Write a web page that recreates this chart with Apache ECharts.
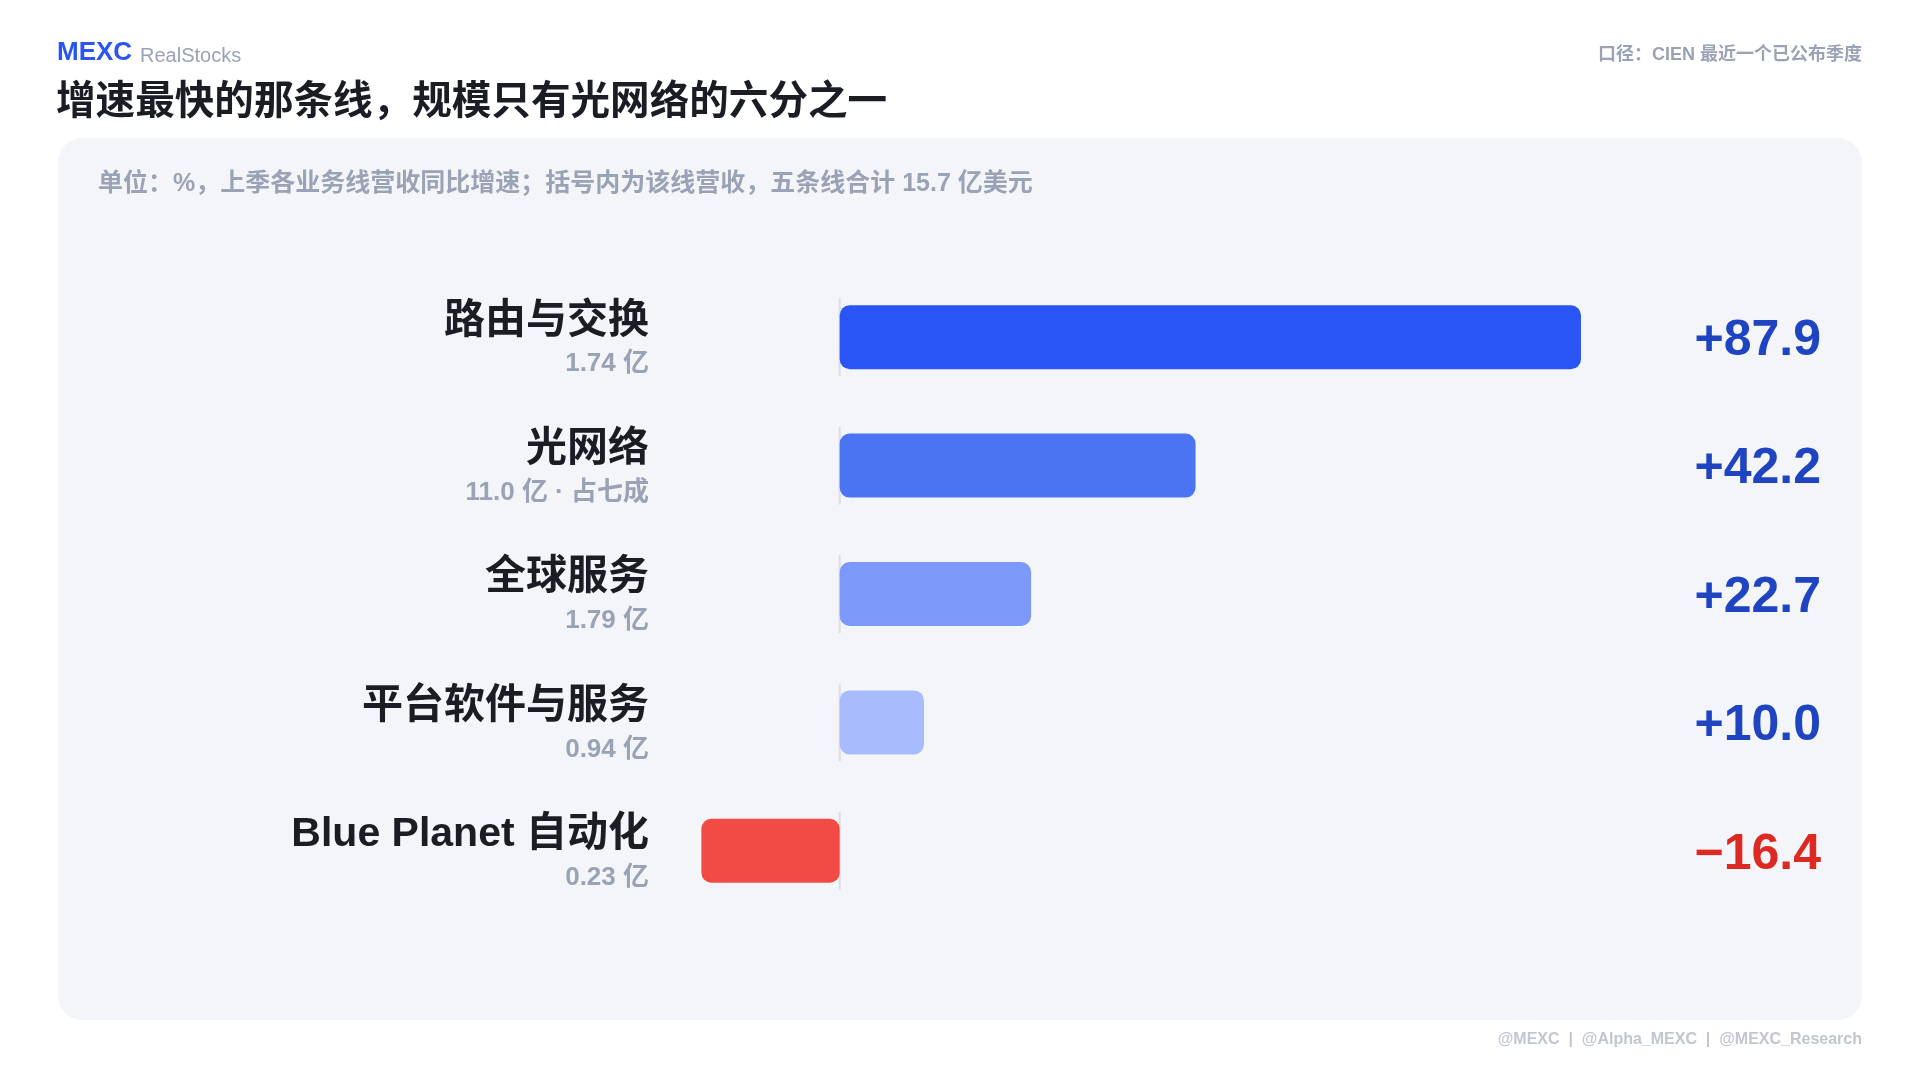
<!DOCTYPE html>
<html><head><meta charset="utf-8">
<script src="https://cdn.jsdelivr.net/npm/echarts@6/dist/echarts.min.js"></script>
<style>html,body{margin:0;padding:0;background:#fff}#c{width:1920px;height:1080px}</style>
</head><body><div id="c"></div>
<script>
const categories = ['路由与交换', '光网络', '全球服务', '平台软件与服务', 'Blue Planet 自动化'];
const revenueLabels = ['1.74 亿', '11.0 亿 · 占七成', '1.79 亿', '0.94 亿', '0.23 亿'];
const growth = [87.9, 42.2, 22.7, 10.0, -16.4];
const barColors = ['#2a55f5', '#4a74f2', '#7c98f8', '#a8bbfd', '#f24b46'];

const FF = '"Liberation Sans", Arial, "Noto Sans CJK SC", sans-serif';
const chart = echarts.init(document.getElementById('c'), null, {renderer: 'canvas'});

function fmtVal(v) {
  return v >= 0 ? '{pos|+' + v.toFixed(1) + '}' : '{neg|\u2212' + Math.abs(v).toFixed(1) + '}';
}

chart.setOption({
  animation: false,
  backgroundColor: '#ffffff',
  textStyle: {fontFamily: FF},
  graphic: [
    {type: 'rect', z: -10, shape: {x: 58, y: 138, width: 1804, height: 882, r: 24}, style: {fill: '#f3f5f8'}},
    {type: 'text', left: 57, top: 40, style: {text: 'MEXC', font: 'bold 26px ' + FF, fill: '#2b55f2'}},
    {type: 'text', left: 140, top: 46, style: {text: 'RealStocks', font: '20px ' + FF, fill: '#9aa3b5'}},
    {type: 'text', left: 56, top: 83, style: {text: '增速最快的那条线，规模只有光网络的六分之一', font: 'bold 39.6px ' + FF, fill: '#1a1d24'}},
    {type: 'text', right: 58, top: 46, style: {text: '口径：CIEN 最近一个已公布季度', font: 'bold 18px ' + FF, fill: '#9aa3b5'}},
    {type: 'text', left: 98, top: 172, style: {text: '单位：%，上季各业务线营收同比增速；括号内为该线营收，五条线合计 15.7 亿美元', font: 'bold 25px ' + FF, fill: '#9aa3b5'}},
    {type: 'text', right: 58, top: 1032, style: {text: '@MEXC  |  @Alpha_MEXC  |  @MEXC_Research', font: 'bold 16px ' + FF, fill: '#c0c6d2'}}
  ],
  grid: {left: 671, right: 237, top: 273, bottom: 165, containLabel: false},
  xAxis: {
    type: 'value', min: -20, max: 100,
    show: false
  },
  yAxis: [
    {
      type: 'category', data: categories, inverse: true,
      axisLine: {show: false}, axisTick: {show: false}, splitLine: {show: false},
      axisLabel: {
        margin: 22, align: 'right', padding: [6, 0, 0, 0],
        formatter: function (v, i) { return '{n|' + v + '}\n{s|' + revenueLabels[i] + '}'; },
        rich: {
          n: {fontFamily: FF, fontSize: 41, fontWeight: 'bold', color: '#1a1d24', lineHeight: 48, align: 'right'},
          s: {fontFamily: FF, fontSize: 26, fontWeight: 'bold', color: '#9aa3b5', lineHeight: 38, align: 'right'}
        }
      }
    },
    {
      type: 'category', data: categories, inverse: true, position: 'right',
      axisLine: {show: false}, axisTick: {show: false}, splitLine: {show: false},
      axisLabel: {
        margin: 138, align: 'right', padding: [8, 0, 0, 0],
        formatter: function (v, i) { return fmtVal(growth[i]); },
        rich: {
          pos: {fontFamily: FF, fontSize: 50, fontWeight: 'bold', color: '#1f44c2'},
          neg: {fontFamily: FF, fontSize: 50, fontWeight: 'bold', color: '#dc2a22'}
        }
      }
    }
  ],
  series: [
    {
      type: 'scatter', yAxisIndex: 0, z: 1, silent: true,
      symbol: 'rect', symbolSize: [2, 78],
      itemStyle: {color: '#d3d8e0'},
      data: categories.map(function () { return 0; })
    },
    {
      type: 'bar', yAxisIndex: 0, z: 2, barWidth: 64,
      data: growth,
      itemStyle: {
        color: function (p) { return barColors[p.dataIndex]; },
        borderRadius: 10
      }
    }
  ]
});
</script>
</body></html>
